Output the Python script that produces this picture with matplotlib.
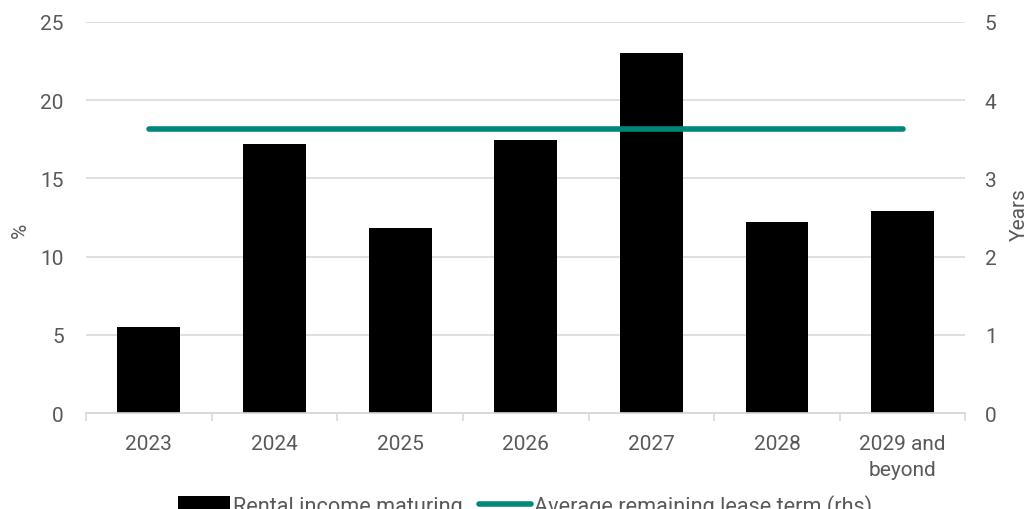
import matplotlib.pyplot as plt
import numpy as np

years = ["2023", "2024", "2025", "2026", "2027", "2028", "2029 and\nbeyond"]
rental_income = [5.5, 17.2, 11.8, 17.45, 23.0, 12.2, 12.9]
avg_lease_term = [3.63, 3.63, 3.63, 3.63, 3.63, 3.63, 3.63]

plt.rcParams["font.family"] = ["Roboto", "DejaVu Sans"]

text_col = "#595959"
grid_col = "#d9d9d9"
green = "#00877a"
fs = 15

fig = plt.figure(figsize=(10.28, 5.1), dpi=100)
ax = fig.add_axes([0.0837, 0.188, 0.8554, 0.767])
ax2 = ax.twinx()

x = np.arange(len(years))
ax.bar(x, rental_income, width=0.5, color="black", label="Rental income maturing", zorder=3)
ax2.plot(x, avg_lease_term, color=green, linewidth=4, solid_capstyle="round",
         label="Average remaining lease term (rhs)", zorder=4)

ax.set_xlim(-0.5, len(years) - 0.5)
ax.set_ylim(0, 25)
ax.set_yticks(np.arange(0, 26, 5))
ax2.set_ylim(0, 5)
ax2.set_yticks(np.arange(0, 6, 1))

ax.set_zorder(ax2.get_zorder() - 1)
ax.patch.set_visible(True)
ax2.patch.set_visible(False)

ax.yaxis.grid(True, color=grid_col, linewidth=1.2, zorder=0)
for a in (ax, ax2):
    for s in ("top", "left", "right"):
        a.spines[s].set_visible(False)
    a.spines["bottom"].set_color(grid_col)
    a.spines["bottom"].set_linewidth(1.2)
    a.tick_params(axis="y", length=0, labelsize=fs, labelcolor=text_col)
ax.tick_params(axis="y", pad=16)
ax2.tick_params(axis="y", pad=14)

ax.set_xticks(x)
ax.set_xticklabels(years, fontsize=fs, color=text_col, linespacing=1.45)
ax.tick_params(axis="x", length=0, pad=15)
ax.set_xticks(np.arange(-0.5, len(years), 1), minor=True)
ax.tick_params(axis="x", which="minor", length=6, color=grid_col, width=1.2)

ax.set_ylabel("%", fontsize=fs, color=text_col)
ax.yaxis.set_label_coords(-0.064, 0.47)
ax2.set_ylabel("Years", fontsize=fs, color=text_col)
ax2.yaxis.set_label_coords(1.05, 0.51)

h1, l1 = ax.get_legend_handles_labels()
h2, l2 = ax2.get_legend_handles_labels()
fig.legend(h1 + h2, l1 + l2, loc="center", bbox_to_anchor=(0.511, 0.006),
           ncol=2, frameon=False, fontsize=15.6, labelcolor=text_col,
           handlelength=2.4, handleheight=0.9, handletextpad=0.15, columnspacing=0.75)

fig.savefig("out.png", dpi=100)
